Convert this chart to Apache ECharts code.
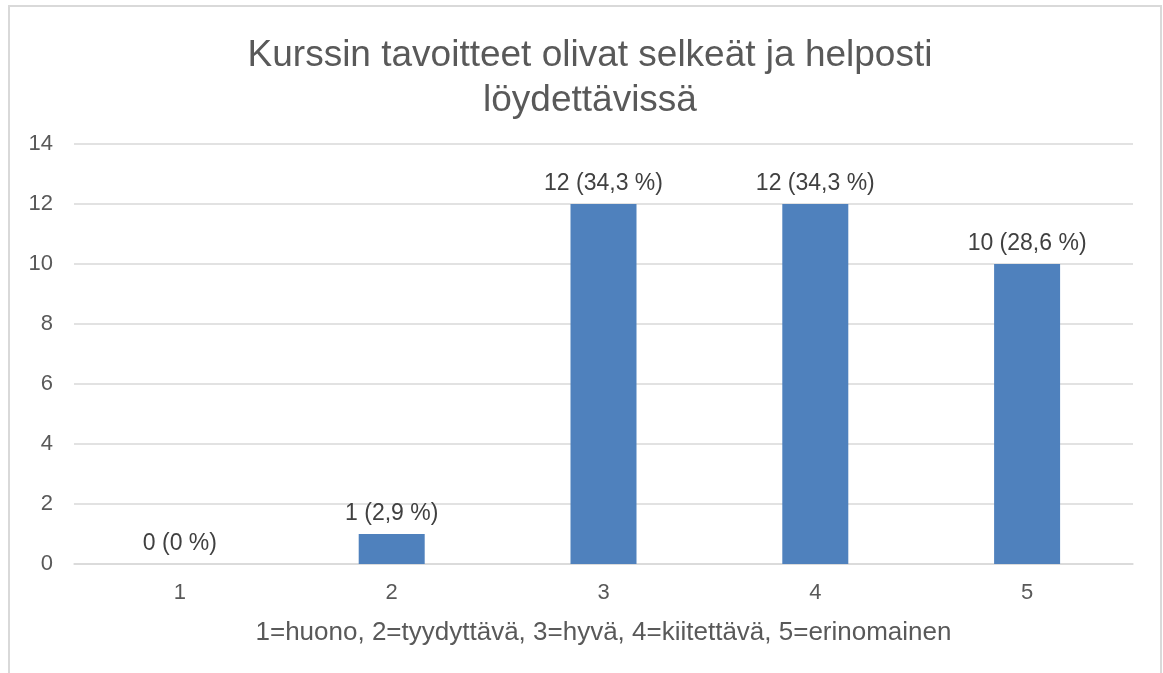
<!DOCTYPE html>
<html>
<head>
<meta charset="utf-8">
<script src="https://cdn.jsdelivr.net/npm/echarts@6/dist/echarts.min.js"></script>
<style>
  html, body { margin: 0; padding: 0; background: #fff; }
  #chart { width: 1163px; height: 673px; }
</style>
</head>
<body>
<div id="chart"></div>
<script>
var categories = ['1', '2', '3', '4', '5'];
var counts = [0, 1, 12, 12, 10];
var percents = ['0', '2,9', '34,3', '34,3', '28,6'];

var textColor = '#595959';
var font = 'Liberation Sans, Arial, sans-serif';

var myChart = echarts.init(document.getElementById('chart'));
myChart.setOption({
    animation: false,
    title: {
        text: 'Kurssin tavoitteet olivat selkeät ja helposti\nlöydettävissä',
        left: 585,
        textAlign: 'center',
        top: 28,
        textStyle: {
            color: textColor,
            fontFamily: font,
            fontWeight: 'normal',
            fontSize: 37,
            lineHeight: 45
        }
    },
    graphic: [{
        type: 'rect',
        shape: { x: 9, y: 6, width: 1152, height: 720 },
        style: { fill: 'none', stroke: '#d9d9d9', lineWidth: 2 },
        silent: true
    }],
    grid: {
        left: 74,
        right: 30,
        top: 144,
        bottom: 109,
        containLabel: false
    },
    xAxis: {
        type: 'category',
        data: categories,
        name: '1=huono, 2=tyydyttävä, 3=hyvä, 4=kiitettävä, 5=erinomainen',
        nameLocation: 'middle',
        nameGap: 56,
        nameTextStyle: { color: textColor, fontFamily: font, fontSize: 26 },
        axisLine: { lineStyle: { color: '#d9d9d9', width: 1.5 } },
        axisTick: { show: false },
        axisLabel: { color: textColor, fontFamily: font, fontSize: 22, margin: 18 }
    },
    yAxis: {
        type: 'value',
        min: 0,
        max: 14,
        interval: 2,
        axisLine: { show: false },
        axisTick: { show: false },
        axisLabel: { color: textColor, fontFamily: font, fontSize: 22, margin: 21 },
        splitLine: { lineStyle: { color: '#d9d9d9', width: 1.5 } }
    },
    series: [{
        name: 'Vastaukset',
        type: 'bar',
        data: counts,
        barWidth: 66,
        itemStyle: { color: '#4f81bd' },
        label: {
            show: true,
            position: 'top',
            distance: 9,
            color: '#404040',
            fontFamily: font,
            fontSize: 23,
            formatter: function (p) {
                return counts[p.dataIndex] + ' (' + percents[p.dataIndex] + ' %)';
            }
        }
    }]
});
</script>
</body>
</html>
